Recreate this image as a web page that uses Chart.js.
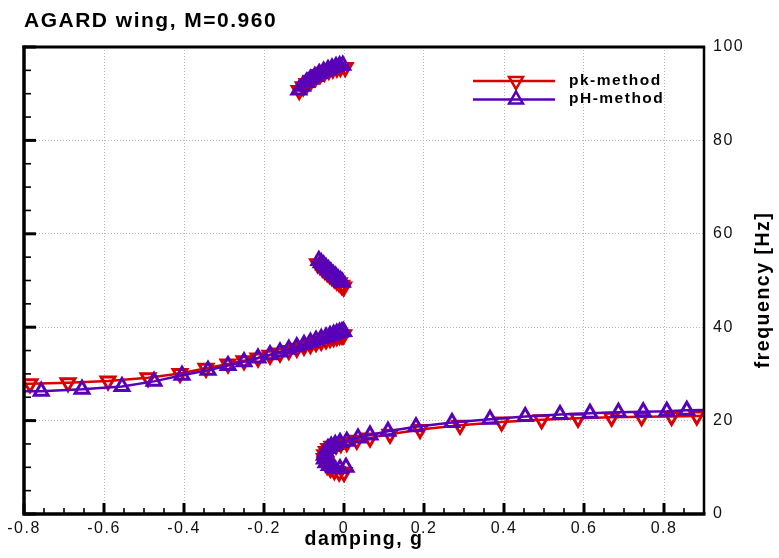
<!DOCTYPE html>
<html>
<head>
<meta charset="utf-8">
<script src="https://cdn.jsdelivr.net/npm/chart.js@4.4.0/dist/chart.umd.min.js"></script>
<style>
html,body{margin:0;padding:0;background:#fff;}
#wrap{width:779px;height:558px;}
</style>
</head>
<body>
<div id="wrap"><canvas id="c" width="779" height="558"></canvas></div>
<script>
// ---------- data ----------
const chartTitle = 'AGARD wing, M=0.960';
const xTitle = 'damping, g';
const yTitle = 'frequency [Hz]';
const seriesNames = ['pk-method', 'pH-method'];

const xTicks = [-0.8, -0.6, -0.4, -0.2, 0, 0.2, 0.4, 0.6, 0.8];
const xTickLabels = ['-0.8', '-0.6', '-0.4', '-0.2', '0', '0.2', '0.4', '0.6', '0.8'];
const yTicks = [0, 20, 40, 60, 80, 100];
const yTickLabels = ['0', '20', '40', '60', '80', '100'];

// pk-method, mode 1 (low branch with hook)
const pkMode1G = [0.000, -0.012, -0.024, -0.034, -0.042, -0.047, -0.049, -0.048, -0.044, -0.038, -0.030, -0.020, -0.008, 0.007, 0.032, 0.065, 0.115, 0.190, 0.290, 0.394, 0.494, 0.585, 0.669, 0.744, 0.819, 0.882, 0.950];
const pkMode1F = [8.9, 9.0, 9.3, 9.8, 10.4, 11.1, 11.9, 12.7, 13.4, 14.0, 14.5, 14.8, 15.1, 15.3, 15.8, 16.3, 17.1, 18.1, 19.0, 19.7, 20.2, 20.5, 20.7, 20.8, 20.9, 21.0, 21.1];
// pk-method, mode 2
const pkMode2G = [-0.001, -0.005, -0.011, -0.018, -0.026, -0.035, -0.045, -0.057, -0.070, -0.084, -0.100, -0.118, -0.138, -0.160, -0.185, -0.215, -0.250, -0.290, -0.345, -0.410, -0.490, -0.590, -0.690, -0.785, -0.880];
const pkMode2F = [38.4, 38.3, 38.2, 38.0, 37.8, 37.6, 37.3, 37.0, 36.7, 36.3, 35.9, 35.5, 35.0, 34.5, 34.0, 33.4, 32.8, 32.1, 31.2, 30.1, 29.2, 28.5, 28.1, 27.9, 27.9];
// pk-method, mode 3
const pkMode3G = [-0.066, -0.060, -0.054, -0.048, -0.042, -0.036, -0.030, -0.024, -0.018, -0.012, -0.006, -0.001];
const pkMode3F = [53.6, 53.2, 52.7, 52.2, 51.7, 51.3, 50.8, 50.4, 49.9, 49.5, 49.0, 48.6];
// pk-method, mode 4
const pkMode4G = [-0.112, -0.102, -0.092, -0.082, -0.071, -0.060, -0.049, -0.038, -0.028, -0.018, -0.009, 0.003];
const pkMode4F = [90.7, 91.5, 92.2, 92.9, 93.5, 94.1, 94.6, 95.0, 95.3, 95.5, 95.6, 95.6];

// pH-method, mode 1
const phMode1G = [0.005, -0.010, -0.025, -0.037, -0.045, -0.049, -0.049, -0.046, -0.040, -0.032, -0.022, -0.010, 0.007, 0.035, 0.065, 0.110, 0.180, 0.270, 0.365, 0.453, 0.540, 0.615, 0.686, 0.748, 0.807, 0.857, 0.950];
const phMode1F = [10.0, 9.7, 9.9, 10.4, 11.0, 11.8, 12.6, 13.4, 14.0, 14.5, 14.9, 15.3, 15.6, 16.3, 16.9, 17.7, 18.7, 19.6, 20.3, 20.9, 21.3, 21.6, 21.8, 21.9, 22.0, 22.2, 22.3];
// pH-method, mode 2
const phMode2G = [-0.001, -0.005, -0.011, -0.018, -0.026, -0.035, -0.045, -0.057, -0.070, -0.084, -0.100, -0.118, -0.138, -0.160, -0.185, -0.215, -0.250, -0.290, -0.340, -0.405, -0.475, -0.555, -0.655, -0.757, -0.860];
const phMode2F = [39.1, 39.0, 38.9, 38.7, 38.5, 38.2, 37.9, 37.6, 37.2, 36.8, 36.3, 35.8, 35.3, 34.7, 34.1, 33.4, 32.6, 31.8, 30.8, 29.7, 28.4, 27.3, 26.7, 26.3, 26.3];
// pH-method, mode 3
const phMode3G = [-0.063, -0.057, -0.051, -0.045, -0.039, -0.033, -0.027, -0.021, -0.015, -0.009, -0.004];
const phMode3F = [54.3, 53.8, 53.3, 52.8, 52.3, 51.8, 51.3, 50.9, 50.4, 50.0, 49.6];
// pH-method, mode 4
const phMode4G = [-0.113, -0.104, -0.094, -0.084, -0.073, -0.062, -0.051, -0.040, -0.030, -0.020, -0.011, -0.003];
const phMode4F = [90.8, 91.6, 92.4, 93.1, 93.7, 94.3, 94.8, 95.2, 95.5, 95.8, 96.0, 96.1];

// ---------- styles ----------
const RED = '#d80000';
const PURPLE = '#5800b8';
const FONT = "'Liberation Sans', Arial, Helvetica, sans-serif";

const toPts = (g, f) => g.map((v, i) => ({x: v, y: f[i]}));

function makeSet(label, g, f, color, rotation, order) {
  return {
    label: label,
    data: toPts(g, f),
    showLine: true,
    borderColor: color,
    borderWidth: 2.5,
    backgroundColor: 'rgba(0,0,0,0)',
    pointStyle: 'triangle',
    pointRotation: rotation,
    pointRadius: 8,
    pointHoverRadius: 8,
    pointBorderWidth: 3,
    pointBorderColor: color,
    pointBackgroundColor: 'rgba(0,0,0,0)',
    tension: 0,
    clip: 0,
    order: order
  };
}

const datasets = [
  makeSet(seriesNames[1], phMode1G, phMode1F, PURPLE, 0, 0),
  makeSet(seriesNames[1], phMode2G, phMode2F, PURPLE, 0, 0),
  makeSet(seriesNames[1], phMode3G, phMode3F, PURPLE, 0, 0),
  makeSet(seriesNames[1], phMode4G, phMode4F, PURPLE, 0, 0),
  makeSet(seriesNames[0], pkMode1G, pkMode1F, RED, 180, 1),
  makeSet(seriesNames[0], pkMode2G, pkMode2F, RED, 180, 1),
  makeSet(seriesNames[0], pkMode3G, pkMode3F, RED, 180, 1),
  makeSet(seriesNames[0], pkMode4G, pkMode4F, RED, 180, 1)
];

function tri(ctx, x, y, r, rotDeg) {
  let rad = rotDeg * Math.PI / 180;
  ctx.beginPath();
  for (let i = 0; i < 3; i++) {
    const px = x + Math.sin(rad) * r, py = y - Math.cos(rad) * r;
    if (i === 0) ctx.moveTo(px, py); else ctx.lineTo(px, py);
    rad += 2 * Math.PI / 3;
  }
  ctx.closePath();
  ctx.stroke();
}

const framePlugin = {
  id: 'frame',
  beforeDraw(chart) {
    chart.ctx.letterSpacing = '1.5px';
  },
  afterDraw(chart) {
    const {ctx, chartArea: a} = chart;
    const xs = chart.scales.x, ys = chart.scales.y;
    ctx.save();
    ctx.strokeStyle = '#000';
    ctx.lineCap = 'butt';
    // inward ticks on the bottom axis
    for (let k = 0; k <= 34; k++) {
      const px = xs.getPixelForValue(-0.8 + 0.05 * k);
      const major = k % 4 === 0;
      ctx.lineWidth = major ? 3 : 1.6;
      ctx.beginPath();
      ctx.moveTo(px, a.bottom);
      ctx.lineTo(px, a.bottom - (major ? 11 : 6));
      ctx.stroke();
    }
    // inward ticks on the left axis
    for (let k = 0; k <= 20; k++) {
      const py = ys.getPixelForValue(5 * k);
      const major = k % 4 === 0;
      ctx.lineWidth = major ? 3 : 1.6;
      ctx.beginPath();
      ctx.moveTo(a.left, py);
      ctx.lineTo(a.left + (major ? 12 : 7), py);
      ctx.stroke();
    }
    // frame
    ctx.lineWidth = 3.5;
    ctx.beginPath();
    ctx.moveTo(a.left, a.top - 1.5); ctx.lineTo(a.left, a.bottom + 1.5);
    ctx.moveTo(a.left - 1.5, a.bottom); ctx.lineTo(a.right + 1.5, a.bottom);
    ctx.stroke();
    ctx.lineWidth = 3;
    ctx.beginPath();
    ctx.moveTo(a.left - 1.5, a.top); ctx.lineTo(a.right + 1.2, a.top);
    ctx.stroke();
    ctx.lineWidth = 2.5;
    ctx.beginPath();
    ctx.moveTo(a.right, a.top); ctx.lineTo(a.right, a.bottom);
    ctx.stroke();

    // legend
    const lx1 = 473, lx2 = 555, tx = 516, yR = 81, yP = 99.5;
    ctx.lineWidth = 2.5;
    ctx.strokeStyle = RED;
    ctx.beginPath(); ctx.moveTo(lx1, yR); ctx.lineTo(lx2, yR); ctx.stroke();
    tri(ctx, tx, yR, 8, 180);
    ctx.strokeStyle = PURPLE;
    ctx.beginPath(); ctx.moveTo(lx1, yP); ctx.lineTo(lx2, yP); ctx.stroke();
    tri(ctx, tx, yP, 8, 0);
    ctx.fillStyle = '#000';
    ctx.font = 'bold 15.5px ' + FONT;
    ctx.textAlign = 'left';
    ctx.textBaseline = 'middle';
    ctx.letterSpacing = '1.5px';
    ctx.fillText(seriesNames[0], 569, yR);
    ctx.fillText(seriesNames[1], 569, yP - 0.5);

    // right axis title (reads bottom to top)
    ctx.save();
    ctx.translate(764, 290);
    ctx.rotate(-Math.PI / 2);
    ctx.font = 'bold 19.5px ' + FONT;
    ctx.textAlign = 'center';
    ctx.textBaseline = 'middle';
    ctx.fillText(yTitle, 0, 0);
    ctx.restore();
    ctx.restore();
  }
};

new Chart(document.getElementById('c'), {
  type: 'scatter',
  data: {datasets: datasets},
  plugins: [framePlugin],
  options: {
    responsive: false,
    animation: false,
    devicePixelRatio: 1,
    layout: {padding: {left: 24, right: 0, top: 0, bottom: 0}},
    plugins: {
      legend: {display: false},
      tooltip: {enabled: false},
      title: {
        display: true,
        text: chartTitle,
        align: 'start',
        color: '#000',
        font: {family: FONT, size: 21, weight: 'bold', lineHeight: 1.2},
        padding: {top: 9, bottom: 12.8}
      }
    },
    scales: {
      x: {
        type: 'linear',
        position: 'bottom',
        min: -0.8,
        max: 0.9,
        afterBuildTicks: (s) => { s.ticks = xTicks.map(v => ({value: v})); },
        afterFit: (s) => { s.height = 44; },
        ticks: {
          callback: (v, i) => xTickLabels[i],
          color: '#111',
          padding: 5,
          maxRotation: 0,
          font: {family: FONT, size: 16}
        },
        grid: {color: '#b8b8b8', lineWidth: 1, drawTicks: false},
        border: {display: false, dash: [1, 2]},
        title: {
          display: true,
          text: xTitle,
          color: '#000',
          font: {family: FONT, size: 19.5, weight: 'bold', lineHeight: 1.2},
          padding: {top: 0, bottom: 7}
        }
      },
      y: {
        type: 'linear',
        position: 'right',
        min: 0,
        max: 100,
        afterBuildTicks: (s) => { s.ticks = yTicks.map(v => ({value: v})); },
        afterFit: (s) => { s.width = 75; },
        ticks: {
          callback: (v, i) => yTickLabels[i],
          color: '#111',
          padding: 9,
          font: {family: FONT, size: 16}
        },
        grid: {color: '#b8b8b8', lineWidth: 1, drawTicks: false},
        border: {display: false, dash: [1, 2]}
      }
    }
  }
});
</script>
</body>
</html>
